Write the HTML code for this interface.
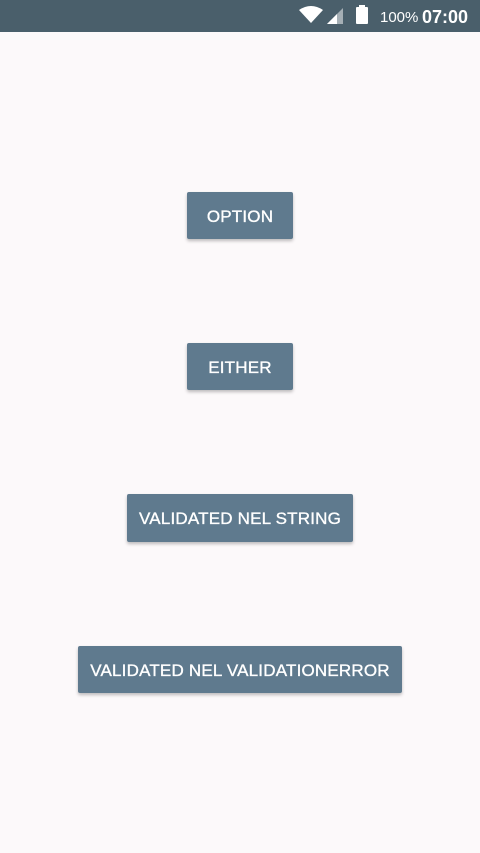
<!DOCTYPE html>
<html><head><style>
body{margin:0;width:480px;height:853px;background:#fcf9fa;font-family:"Liberation Sans",sans-serif;position:relative;overflow:hidden}
.sb{position:absolute;left:0;top:0;width:480px;height:32px;background:#4a5f6b}
.b{position:absolute;background:#5f7a8e;color:#fff;font-size:17px;display:flex;align-items:center;justify-content:center;border-radius:2px;box-shadow:0 2px 3px rgba(0,0,0,0.25);letter-spacing:0.2px;padding-top:2px;box-sizing:border-box;-webkit-text-stroke:0.35px #fff}
</style></head><body>
<div class="sb">
<svg width="480" height="32" style="position:absolute;left:0;top:0">
<path d="M299 10 Q311 2 323 10 L311 23 Z" fill="#fff"/>
<path d="M327 24 L343 8 L343 24 Z" fill="#fff" opacity="0.5"/>
<path d="M327 24 L337 14 L337 24 Z" fill="#fff"/>
<rect x="356" y="7" width="12" height="17" rx="1" fill="#fff"/>
<rect x="359" y="5" width="6" height="3" fill="#fff"/>
<text x="380" y="22" fill="#fff" font-size="15" font-family="Liberation Sans">100%</text>
<text x="422" y="23" fill="#fff" font-size="18" font-weight="bold" font-family="Liberation Sans">07:00</text>
</svg>
</div>
<div class="b" style="left:187px;top:192px;width:106px;height:47px">OPTION</div>
<div class="b" style="left:187px;top:343px;width:106px;height:47px">EITHER</div>
<div class="b" style="left:127px;top:494px;width:226px;height:48px">VALIDATED NEL STRING</div>
<div class="b" style="left:78px;top:646px;width:324px;height:47px">VALIDATED NEL VALIDATIONERROR</div>
</body></html>
